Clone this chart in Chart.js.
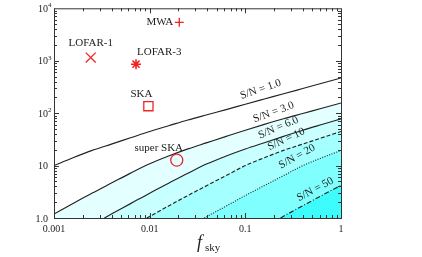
<!DOCTYPE html>
<html>
<head>
<meta charset="utf-8">
<script src="https://cdn.jsdelivr.net/npm/chart.js@4.4.0/dist/chart.umd.min.js"></script>
<style>
  html, body { margin: 0; padding: 0; background: #fff; }
</style>
</head>
<body>
<canvas id="snChart" width="422" height="257"></canvas>
<script>
// Axis ticks
const xTicks = [0.001, 0.01, 0.1, 1];
const xTickLabels = ['0.001', '0.01', '0.1', '1'];
const yTicks = [1, 10, 100, 1000, 10000];
const yTickBase = ['1.0', '10', '10', '10', '10'];
const yTickExp = ['', '', '2', '3', '4'];

// S/N contours (f_sky, required value)
const sn1F = [0.001, 0.00158, 0.00251, 0.00398, 0.00631, 0.01, 0.0158, 0.0251, 0.0398, 0.0631, 0.1, 0.158, 0.251, 0.398, 0.631, 1];
const sn1Y = [10, 14.1, 19.5, 25.7, 33.9, 44.7, 57.5, 74.1, 93.3, 117, 148, 186, 234, 295, 372, 468];
const sn3F = [0.001, 0.00158, 0.00251, 0.00398, 0.00631, 0.01, 0.0158, 0.0251, 0.0398, 0.0631, 0.1, 0.158, 0.251, 0.398, 0.631, 1];
const sn3Y = [1.19, 1.89, 2.99, 4.63, 7.18, 10.8, 15.2, 20.8, 27.4, 36.1, 47.3, 61.0, 78.2, 98.4, 124, 156];
const sn6F = [0.00336, 0.00398, 0.00631, 0.01, 0.0158, 0.0251, 0.0398, 0.0631, 0.1, 0.158, 0.251, 0.398, 0.631, 1];
const sn6Y = [1, 1.19, 1.88, 2.98, 4.61, 7.14, 10.8, 15.2, 20.7, 27.3, 36.0, 47.2, 60.8, 78.0];
const sn10F = [0.00933, 0.01, 0.0158, 0.0251, 0.0398, 0.0631, 0.1, 0.158, 0.251, 0.398, 0.631, 1];
const sn10Y = [1, 1.07, 1.70, 2.69, 4.17, 6.46, 10, 14.1, 19.5, 25.7, 33.9, 44.7];
const sn20F = [0.0373, 0.0398, 0.0631, 0.1, 0.158, 0.251, 0.398, 0.631, 1];
const sn20Y = [1, 1.07, 1.69, 2.68, 4.15, 6.43, 9.95, 14.1, 19.4];
const sn50F = [0.233, 0.251, 0.398, 0.631, 1];
const sn50Y = [1, 1.08, 1.71, 2.70, 4.19];
const snLabels = ['S/N = 1.0', 'S/N = 3.0', 'S/N = 6.0', 'S/N = 10', 'S/N = 20', 'S/N = 50'];

// Telescopes
const telescopes = ['LOFAR-1', 'LOFAR-3', 'MWA', 'SKA', 'super SKA'];
const telescopeF = [0.00242, 0.0072, 0.0204, 0.0097, 0.0192];
const telescopeY = [1150, 858, 5410, 136, 12.7];

// label placement (data position + rotation in degrees)
const snLabelPos = [[0.149, 240, -19], [0.204, 88, -20], [0.23, 45, -23], [0.279, 27, -25], [0.364, 12.7, -29], [0.561, 3.0, -28]];
// offsets of the telescope names from their markers: dx, dy, align
const nameOffsets = [[0, -14, 'center'], [1, -12, 'left'], [-6, 0, 'right'], [-7, -12, 'center'], [-18, -12, 'center']];

const serif = '"Liberation Serif", "DejaVu Serif", serif';
const ink = '#222';

function pts(fs, ys) {
    return fs.map((f, i) => ({ x: f, y: ys[i] }));
}

function contour(data, fillColor, dash) {
    return {
        data: data,
        borderColor: ink,
        borderWidth: 1.15,
        borderDash: dash,
        backgroundColor: fillColor,
        fill: fillColor ? 'start' : false,
        pointRadius: 0,
        cubicInterpolationMode: 'monotone'
    };
}

const decorations = {
    id: 'decorations',
    afterDraw(chart) {
        const { ctx, chartArea: a, scales: { x, y } } = chart;
        ctx.save();
        ctx.strokeStyle = '#333';
        ctx.lineWidth = 1;

        const seg = (x1, y1, x2, y2) => {
            ctx.beginPath();
            ctx.moveTo(x1, y1);
            ctx.lineTo(x2, y2);
            ctx.stroke();
        };

        // inward ticks on all four sides
        for (let e = -3; e < 0; e++) {
            for (let d = 1; d < 10; d++) {
                const px = Math.round(x.getPixelForValue(d * Math.pow(10, e))) + 0.5;
                const len = d === 1 ? 5 : 3;
                seg(px, a.bottom, px, a.bottom - len);
                seg(px, a.top, px, a.top + len);
            }
        }
        for (let e = 0; e < 4; e++) {
            for (let d = 1; d < 10; d++) {
                const py = Math.round(y.getPixelForValue(d * Math.pow(10, e))) + 0.5;
                const len = d === 1 ? 5 : 3;
                seg(a.left, py, a.left + len, py);
                seg(a.right, py, a.right - len, py);
            }
        }

        // frame
        ctx.strokeRect(a.left + 0.5, a.top + 0.5, a.right - a.left, a.bottom - a.top);

        ctx.fillStyle = ink;

        // y tick labels with superscripts
        yTicks.forEach((v, i) => {
            const py = y.getPixelForValue(v);
            ctx.font = '10px ' + serif;
            ctx.textAlign = 'right';
            ctx.textBaseline = 'middle';
            ctx.fillText(yTickBase[i], 48, py + 1);
            if (yTickExp[i]) {
                ctx.font = '7px ' + serif;
                ctx.textAlign = 'left';
                ctx.fillText(yTickExp[i], 48, py - 3);
            }
        });

        // contour labels, sitting just above their lines
        ctx.font = '11px ' + serif;
        ctx.textAlign = 'center';
        ctx.textBaseline = 'middle';
        snLabels.forEach((t, i) => {
            const p = snLabelPos[i];
            ctx.save();
            ctx.translate(x.getPixelForValue(p[0]), y.getPixelForValue(p[1]));
            ctx.rotate(p[2] * Math.PI / 180);
            ctx.fillText(t, 0, -4);
            ctx.restore();
        });

        // telescope names
        const marks = chart.getDatasetMeta(0).data;
        telescopes.forEach((name, i) => {
            const o = nameOffsets[i];
            ctx.textAlign = o[2];
            ctx.fillText(name, marks[i].x + o[0], marks[i].y + o[1]);
        });

        // axis title f_sky
        ctx.textAlign = 'left';
        ctx.textBaseline = 'alphabetic';
        ctx.font = 'italic 18px ' + serif;
        ctx.fillText('f', 197, 248);
        ctx.font = '11px ' + serif;
        ctx.fillText('sky', 205, 251);

        ctx.restore();
    }
};

const ctx = document.getElementById('snChart').getContext('2d');
const snChart = new Chart(ctx, {
    type: 'line',
    data: {
        datasets: [
            {
                data: pts(telescopeF, telescopeY),
                showLine: false,
                fill: false,
                pointStyle: ['crossRot', 'star', 'cross', 'rect', 'circle'],
                pointRadius: [7, 5, 4.5, 6.5, 6],
                pointBorderColor: '#f02424',
                pointBackgroundColor: 'rgba(0,0,0,0)',
                pointBorderWidth: [1.3, 1.6, 1.3, 1.3, 1.3]
            },
            contour(pts(sn50F, sn50Y), '#3ffcfc', [5, 2, 1, 2]),
            contour(pts(sn20F, sn20Y), '#80ffff', [1, 1.5]),
            contour(pts(sn10F, sn10Y), '#a4ffff', [4, 2]),
            contour(pts(sn6F, sn6Y), '#c8ffff', []),
            contour(pts(sn3F, sn3Y), '#e4ffff', []),
            contour(pts(sn1F, sn1Y), null, [])
        ]
    },
    options: {
        responsive: false,
        animation: false,
        layout: { padding: { left: 0, right: 81, top: 8, bottom: 0 } },
        plugins: { legend: { display: false }, tooltip: { enabled: false } },
        scales: {
            x: {
                type: 'logarithmic',
                min: 0.001,
                max: 1,
                grid: { display: false, drawTicks: false },
                border: { display: false },
                afterBuildTicks: s => { s.ticks = xTicks.map(v => ({ value: v })); },
                afterFit: s => { s.height = 39; },
                ticks: {
                    padding: 5,
                    color: ink,
                    maxRotation: 0,
                    autoSkip: false,
                    font: { family: serif, size: 10 },
                    callback: (v, i) => xTickLabels[i]
                }
            },
            y: {
                type: 'logarithmic',
                min: 1,
                max: 10000,
                grid: { display: false, drawTicks: false },
                border: { display: false },
                afterBuildTicks: s => { s.ticks = yTicks.map(v => ({ value: v })); },
                afterFit: s => { s.width = 54; },
                ticks: { display: false }
            }
        }
    },
    plugins: [decorations]
});
</script>
</body>
</html>
